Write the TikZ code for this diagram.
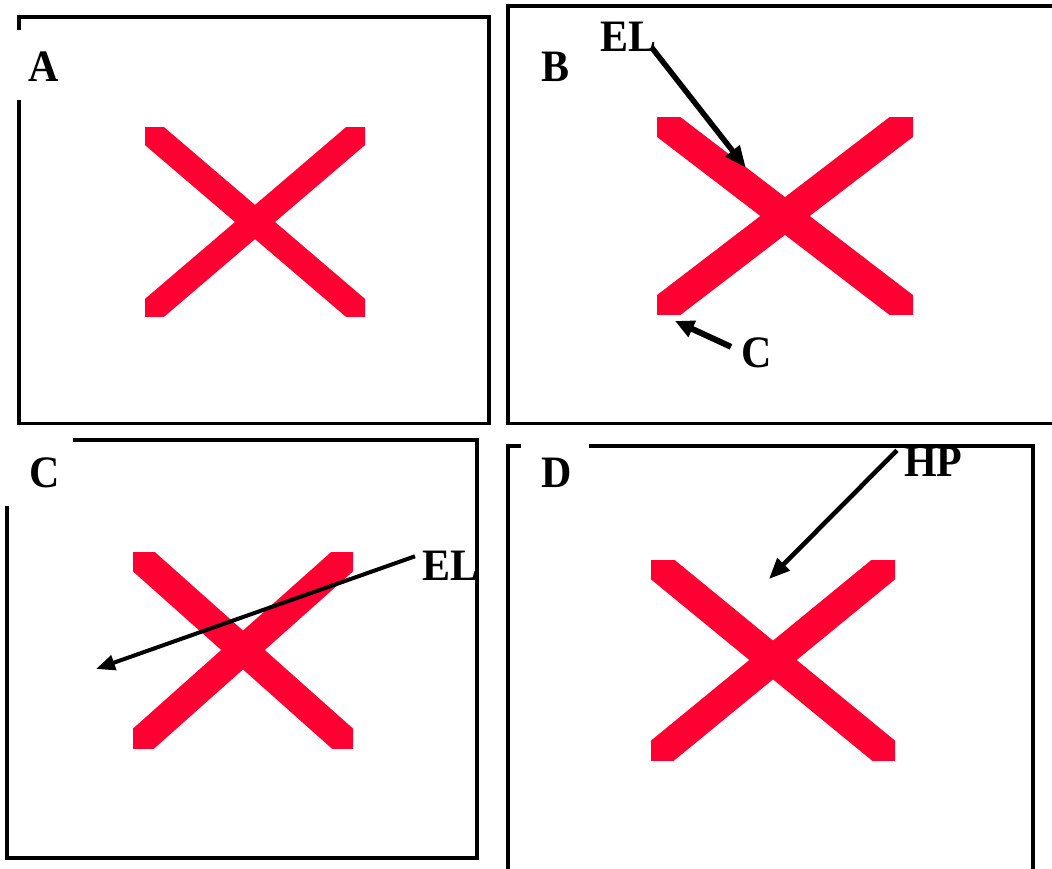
\documentclass[tikz,border=0pt]{standalone}
\usepackage{fontspec}
\setmainfont{Liberation Serif}
\usetikzlibrary{arrows.meta}
\definecolor{xred}{RGB}{255,0,51}
\tikzset{
  frame/.style={line width=3.6pt, line join=miter, line cap=butt},
  xbar/.style={xred, line cap=rect},
  lbl/.style={anchor=base west, inner sep=0pt, font=\fontsize{42}{42}\selectfont\bfseries},
  arr/.style={-{Triangle[length=22pt,width=17pt]}, line width=5.5pt},
}
\newcommand\drawredx[5]{%
  \begin{scope}
    \clip (#1,#2) rectangle (#3,#4);
    \draw[xbar,line width=#5pt] (#1,#2) -- (#3,#4) (#1,#4) -- (#3,#2);
  \end{scope}}
\newcommand\lbltext[1]{\scalebox{1}[1.07]{#1}}
\begin{document}
\begin{tikzpicture}[x=1pt,y=-1pt]
\useasboundingbox (0,0) rectangle (1052,869);
% frames
\draw[frame] (19,30) -- (19,17) -- (489,17) -- (489,423.5) -- (19,423.5) -- (19,100);
\draw[frame] (1056,6) -- (508,6) -- (508,423.5) -- (1056,423.5);
\draw[frame] (73,440) -- (477,440) -- (477,858) -- (7,858) -- (7,506);
\draw[frame] (521,446) -- (508,446) -- (508,875);
\draw[frame] (589,446) -- (1033,446) -- (1033,875);
% red crosses
\drawredx{145}{128}{365}{316}{26}
\drawredx{657}{118}{913}{314}{30}
\drawredx{133}{552}{353}{748}{29}
\drawredx{651}{560}{895}{760}{30}
% labels
\node[lbl] (la) at (28,82) {\lbltext{A}};
\node[lbl] (lb) at (541,82) {\lbltext{B}};
\node[lbl] (elB) at (600,52) {\lbltext{EL}};
\node[lbl] (cB) at (741,367) {\lbltext{C}};
\node[lbl] (lc) at (29,487) {\lbltext{C}};
\node[lbl] (ld) at (541,487) {\lbltext{D}};
\node[lbl] (elC) at (422,580) {\lbltext{EL}};
\node[lbl] (hp) at (904,476) {\lbltext{HP}};
% arrow targets
\coordinate (elBtip) at (746,168);
\coordinate (cBtip) at (675,321);
\coordinate (elCtip) at (96,669);
\coordinate (hptip) at (769,579);
% arrows
\draw[arr] ([xshift=-5pt,yshift=5pt]elB.south east) -- (elBtip);
\draw[arr,line width=6pt,-{Triangle[length=19pt,width=17pt]}] ([xshift=-10pt,yshift=5.5pt]cB.west) -- (cBtip);
\draw[arr,line width=4pt,-{Triangle[length=19pt,width=15pt]}] ([xshift=-7pt,yshift=9pt]elC.west) -- (elCtip);
\draw[arr,line width=4.6pt,-{Triangle[length=21pt,width=17pt]}] ([xshift=-7pt,yshift=11pt]hp.west) -- (hptip);
\end{tikzpicture}
\end{document}
